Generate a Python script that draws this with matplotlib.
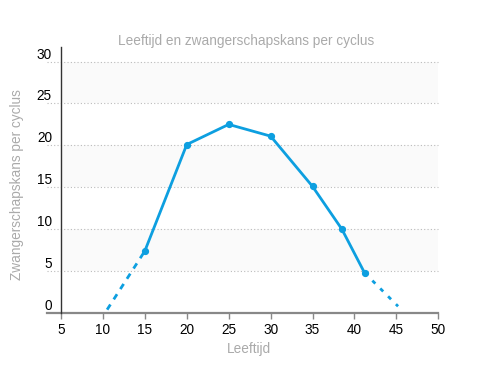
import matplotlib
matplotlib.use("Agg")
import matplotlib.pyplot as plt
import matplotlib.transforms as mtransforms

plt.rcParams['font.family'] = ['Liberation Sans', 'DejaVu Sans']

# data
leeftijd = [15, 20, 25, 30, 35, 38.5, 41.2]
kans = [7.4, 20.1, 22.5, 21.1, 15.1, 10.0, 4.8]
extrap_links_x = [10.5, 15]
extrap_links_y = [0.4, 7.4]
extrap_rechts_x = [41.2, 45.2]
extrap_rechts_y = [4.8, 0.8]
xticks = [5, 10, 15, 20, 25, 30, 35, 40, 45, 50]
yticks = [0, 5, 10, 15, 20, 25, 30]

BLUE = "#0d9fe0"
GRAY_TXT = "#aaaaaa"
FS = 9.8

fig = plt.figure(figsize=(4.8, 3.76), dpi=100)
ax = fig.add_axes([61 / 480, 63 / 376, 377.3 / 480, 265.7 / 376])
ax.set_xlim(5, 50)
ax.set_ylim(0, 31.7)

# alternating bands
for lo in [5, 15, 25]:
    ax.axhspan(lo, lo + 5, color="#fafafa", zorder=0, lw=0)

# dotted gridlines, sticking out left of the y axis
blend = mtransforms.blended_transform_factory(ax.transAxes, ax.transData)
for yv in yticks[1:]:
    ax.plot([-0.037, 1], [yv, yv], transform=blend, clip_on=False,
            color="#bbbbbb", lw=0.8, ls=(0, (1, 2)), zorder=1)
# x axis line
ax.plot([-0.037, 1], [0, 0], transform=blend, clip_on=False,
        color="#888888", lw=1.6, zorder=2)

ax.plot(leeftijd, kans, color=BLUE, lw=2, marker="o", ms=4.2, zorder=3)
ax.plot(extrap_links_x, extrap_links_y, color=BLUE, lw=2, ls=(0, (2.2, 2.2)), zorder=3)
ax.plot(extrap_rechts_x, extrap_rechts_y, color=BLUE, lw=2, ls=(0, (1.5, 2.5)), zorder=3)

for s in ["top", "right", "bottom"]:
    ax.spines[s].set_visible(False)
ax.spines["left"].set_color("#333333")
ax.spines["left"].set_linewidth(1)

ax.set_xticks(xticks)
ax.set_yticks(yticks)
ax.tick_params(axis="x", length=4.3, width=1, color="#888888", pad=3,
               labelsize=FS, labelcolor="black")
ax.tick_params(axis="y", length=0, pad=6.5, labelsize=FS, labelcolor="black")
shift = mtransforms.ScaledTranslation(0, 8.5 / 100, fig.dpi_scale_trans)
for lab in ax.get_yticklabels():
    lab.set_transform(lab.get_transform() + shift)

fig.text(246 / 480, 1 - 41 / 376, "Leeftijd en zwangerschapskans per cyclus",
         ha="center", va="center", fontsize=FS, color=GRAY_TXT)
fig.text(17 / 480, 1 - 185 / 376, "Zwangerschapskans per cyclus", rotation=90,
         ha="center", va="center", fontsize=FS, color=GRAY_TXT)
fig.text(249 / 480, 1 - 349 / 376, "Leeftijd", ha="center", va="center",
         fontsize=FS, color=GRAY_TXT)

fig.savefig("out.png", dpi=100)
